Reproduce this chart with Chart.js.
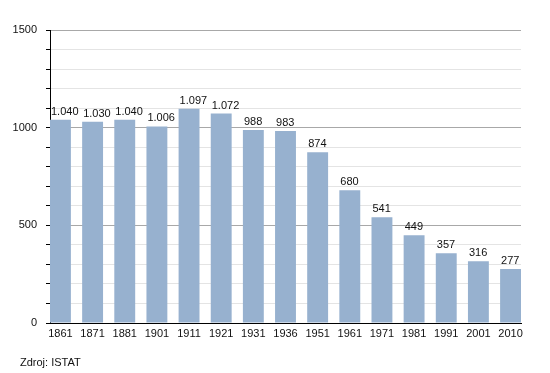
<!DOCTYPE html>
<html>
<head>
<meta charset="utf-8">
<script src="https://cdn.jsdelivr.net/npm/chart.js@4"></script>
<style>
    html, body { margin: 0; padding: 0; background: #fff; }
    .wrap { position: relative; width: 550px; height: 373px; }
    .source {
        position: absolute; left: 20px; top: 356px;
        font: 11px "Liberation Sans", Arial, sans-serif; color: #111;
    }
</style>
</head>
<body>
<div class="wrap">
    <canvas id="pop-chart" width="550" height="373"></canvas>
    <div class="source">Zdroj: ISTAT</div>
</div>
<script>
// data
const years = ['1861', '1871', '1881', '1901', '1911', '1921', '1931', '1936', '1951', '1961', '1971', '1981', '1991', '2001', '2010']
const population = [1040, 1030, 1040, 1006, 1097, 1072, 988, 983, 874, 680, 541, 449, 357, 316, 277]
const yTicks = [0, 500, 1000, 1500]

const font = { family: '"Liberation Sans", Arial, sans-serif', size: 11 }

// 1040 -> "1.040"
function formatIt(n) {
    return String(n).replace(/\B(?=(\d{3})+(?!\d))/g, '.')
}

// value labels above bars, starting at the bar's left edge
const barLabels = {
    id: 'barLabels',
    afterDraw(chart) {
        const ctx = chart.ctx
        const meta = chart.getDatasetMeta(0)
        ctx.save()
        ctx.font = font.size + 'px ' + font.family
        ctx.fillStyle = '#111'
        ctx.textAlign = 'left'
        ctx.textBaseline = 'alphabetic'
        meta.data.forEach(function (bar, i) {
            ctx.fillText(formatIt(population[i]), bar.x - bar.width / 2 + 1, bar.y - 5)
        })
        ctx.restore()
    }
}

new Chart(document.getElementById('pop-chart'), {
    type: 'bar',
    data: {
        datasets: [{
            data: population.map((v, i) => ({ x: i, y: v })),
            backgroundColor: 'rgb(151, 177, 207)',
            borderWidth: 0,
            barPercentage: 0.65,
            categoryPercentage: 1
        }]
    },
    options: {
        responsive: false,
        animation: false,
        layout: { padding: { top: 30, right: 29, left: 0, bottom: 0 } },
        plugins: {
            legend: { display: false },
            tooltip: { enabled: false }
        },
        scales: {
            x: {
                type: 'linear',
                offset: false,
                bounds: 'data',
                min: -0.325,
                max: 14.325,
                afterBuildTicks: function (axis) {
                    axis.ticks = years.map((y, i) => ({ value: i }))
                },
                afterFit: function (axis) { axis.height = 50 },
                grid: { display: false, drawTicks: false, offset: false },
                border: { display: true, color: '#000', width: 1 },
                ticks: {
                    autoSkip: false,
                    maxRotation: 0,
                    padding: 4,
                    color: '#111',
                    font: font,
                    callback: function (value) { return years[value] }
                }
            },
            y: {
                min: 0,
                max: 1500,
                afterFit: function (axis) { axis.width = 50 },
                grid: {
                    color: function (c) {
                        return c.tick && yTicks.includes(c.tick.value) ? '#a8a8a8' : '#e4e4e4'
                    },
                    tickColor: '#000',
                    tickLength: 4
                },
                border: { display: true, color: '#000', width: 1 },
                ticks: {
                    stepSize: 100,
                    autoSkip: false,
                    padding: 9,
                    color: '#111',
                    font: font,
                    callback: function (value) {
                        return yTicks.includes(value) ? String(value) : ''
                    }
                }
            }
        }
    },
    plugins: [barLabels]
});
</script>
</body>
</html>
